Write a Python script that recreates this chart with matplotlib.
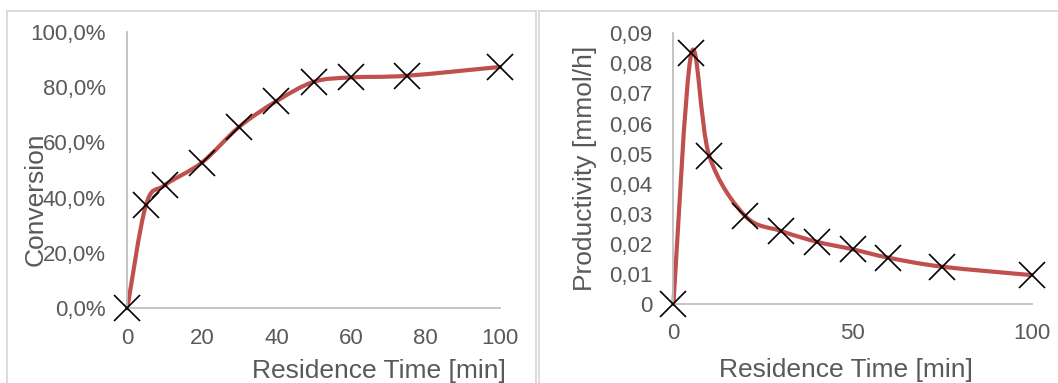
import matplotlib
matplotlib.use("Agg")
import matplotlib.pyplot as plt
from matplotlib.path import Path
from matplotlib.patches import PathPatch
from matplotlib.lines import Line2D
from matplotlib.ticker import FuncFormatter
import numpy as np

plt.rcParams['font.family'] = ['Liberation Sans', 'DejaVu Sans']

# Residence time [min]
residence_time = [0, 5, 10, 20, 30, 40, 50, 60, 75, 100]
# Conversion [%]
conversion = [0.0, 37.3, 44.5, 52.7, 65.6, 74.9, 81.9, 83.5, 84.1, 87.3]
# Productivity [mmol/h]
productivity = [0.0, 0.0833, 0.0493, 0.0293, 0.0243, 0.0207, 0.0182, 0.0154, 0.0124, 0.0096]

conv_ticks = [0, 20, 40, 60, 80, 100]
conv_time_ticks = [0, 20, 40, 60, 80, 100]
prod_ticks = [0, 0.01, 0.02, 0.03, 0.04, 0.05, 0.06, 0.07, 0.08, 0.09]
prod_time_ticks = [0, 50, 100]

LINE_RED = '#C0504D'
TEXT_GREY = '#595959'
AXIS_GREY = '#BFBFBF'
FRAME_GREY = '#D9D9D9'
TICK_FS = 16
TITLE_FS = 19

W, H = 1058, 383
fig = plt.figure(figsize=(W / 100, H / 100), dpi=100)


def px_box(x0, x1, y_top, y_bot):
    return [x0 / W, 1 - y_bot / H, (x1 - x0) / W, (y_bot - y_top) / H]


def smooth_path(x, y):
    """Cubic Bezier path through the points (Catmull-Rom style tangents)."""
    p = np.column_stack([x, y]).astype(float)
    n = len(p)
    verts = [p[0]]
    codes = [Path.MOVETO]
    for i in range(n - 1):
        p0 = p[i - 1] if i > 0 else p[i]
        p1 = p[i]
        p2 = p[i + 1]
        p3 = p[i + 2] if i + 2 < n else p[i + 1]
        c1 = p1 + (p2 - p0) / 6.0
        c2 = p2 - (p3 - p1) / 6.0
        verts += [c1, c2, p2]
        codes += [Path.CURVE4] * 3
    return Path(verts, codes)


def style_axes(ax, ypad, xpad):
    for side in ('top', 'right'):
        ax.spines[side].set_visible(False)
    for side in ('left', 'bottom'):
        ax.spines[side].set_color(AXIS_GREY)
        ax.spines[side].set_linewidth(1.3)
    ax.tick_params(axis='both', length=0, labelsize=TICK_FS, labelcolor=TEXT_GREY)
    ax.tick_params(axis='y', pad=ypad)
    ax.tick_params(axis='x', pad=xpad)
    ax.patch.set_alpha(0)


def draw_series(ax, x, y):
    ax.add_patch(PathPatch(smooth_path(x, y), facecolor='none', edgecolor=LINE_RED,
                           lw=3.0, capstyle='round', joinstyle='round', clip_on=False, zorder=2))
    ax.plot(x, y, linestyle='none', marker='x', markersize=19, markeredgewidth=1.2,
            color='black', clip_on=False, zorder=3)


# Conversion panel
ax1 = fig.add_axes(px_box(127.3, 500.0, 31.8, 308.3))
draw_series(ax1, residence_time, conversion)
ax1.set_xlim(0, 100)
ax1.set_ylim(0, 100)
ax1.set_xticks(conv_time_ticks)
ax1.set_yticks(conv_ticks)
ax1.yaxis.set_major_formatter(FuncFormatter(lambda v, _: f"{v:.1f}".replace('.', ',') + '%'))
style_axes(ax1, ypad=15.5, xpad=14)

# Productivity panel
ax2 = fig.add_axes(px_box(673.4, 1031.7, 33.3, 304.0))
draw_series(ax2, residence_time, productivity)
ax2.set_xlim(0, 100)
ax2.set_ylim(0, 0.09)
ax2.set_xticks(prod_time_ticks)
ax2.set_yticks(prod_ticks)
ax2.yaxis.set_major_formatter(
    FuncFormatter(lambda v, _: '0' if abs(v) < 1e-12 else f"{v:.2f}".replace('.', ',')))
style_axes(ax2, ypad=15.0, xpad=14)

# Axis titles
fig.text(506 / W, 1 - 378 / H, 'Residence Time [min]', ha='right', va='baseline',
         fontsize=TITLE_FS, color=TEXT_GREY)
fig.text(973 / W, 1 - 377 / H, 'Residence Time [min]', ha='right', va='baseline',
         fontsize=TITLE_FS, color=TEXT_GREY)
fig.text(36 / W, 1 - 199 / H, 'Conversion', rotation=90, ha='center', va='center',
         fontsize=TITLE_FS, color=TEXT_GREY)
fig.text(585 / W, 1 - 168.5 / H, 'Productivity [mmol/h]', rotation=90, ha='center',
         va='center', fontsize=TITLE_FS, color=TEXT_GREY)

# Chart-area frames
def fig_line(xs, ys):
    fig.add_artist(Line2D([x / W for x in xs], [1 - y / H for y in ys],
                          color=FRAME_GREY, lw=1.3, transform=fig.transFigure))

fig_line([6.5, 6.5], [10.5, 390])
fig_line([6.5, 535.7], [10.5, 10.5])
fig_line([535.7, 535.7], [10.5, 390])
fig_line([539, 539], [10.5, 390])
fig_line([539, 1070], [10.5, 10.5])

fig.savefig('out.png', dpi=100)
